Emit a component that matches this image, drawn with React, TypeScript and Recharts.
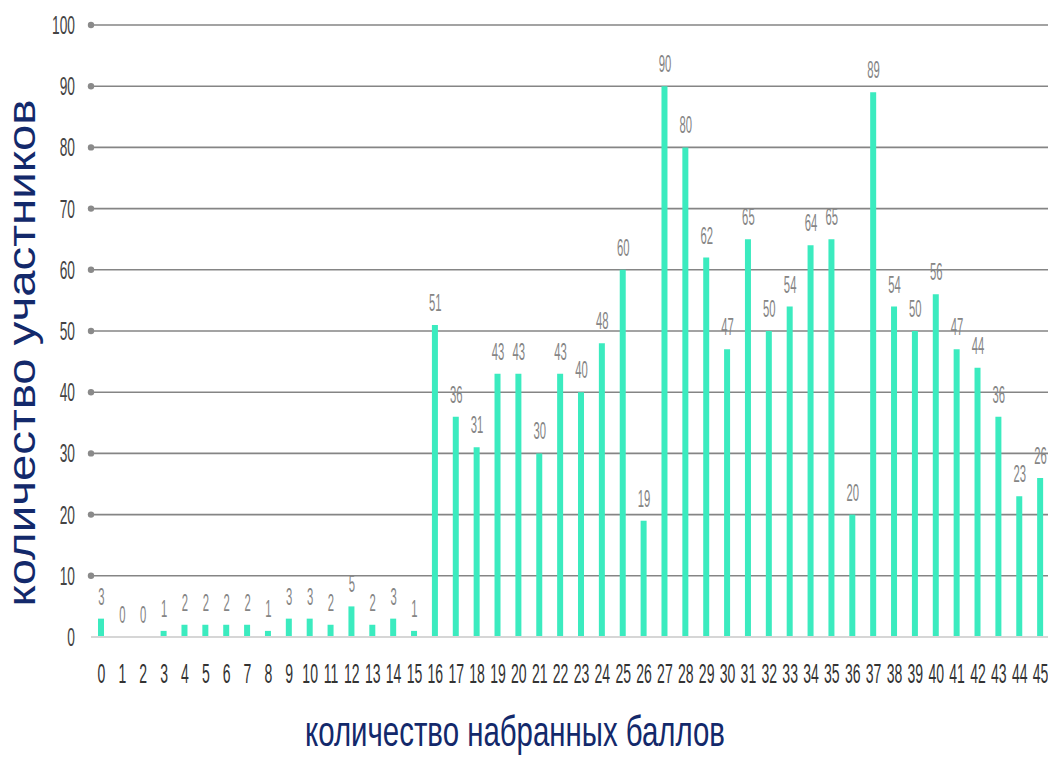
import React from 'react';
import { ComposedChart, Bar, Line, XAxis, YAxis, CartesianGrid, LabelList } from 'recharts';

const scores = [
  '0', '1', '2', '3', '4', '5', '6', '7', '8', '9', '10', '11', '12', '13', '14', '15',
  '16', '17', '18', '19', '20', '21', '22', '23', '24', '25', '26', '27', '28', '29', '30',
  '31', '32', '33', '34', '35', '36', '37', '38', '39', '40', '41', '42', '43', '44', '45',
];
const participants = [
  3, 0, 0, 1, 2, 2, 2, 2, 1, 3, 3, 2, 5, 2, 3, 1,
  51, 36, 31, 43, 43, 30, 43, 40, 48, 60, 19, 90, 80, 62, 47,
  65, 50, 54, 64, 65, 20, 89, 54, 50, 56, 47, 44, 36, 23, 26,
];
const yTicks = [0, 10, 20, 30, 40, 50, 60, 70, 80, 90, 100];

const data = scores.map((s, i) => ({ score: s, count: participants[i] }));

const FONT = '"Liberation Sans", Arial, sans-serif';
const NAVY = '#13296b';

const YTick = ({ x, y, payload }: any) => (
  <g>
    {payload.value !== 0 && <circle cx={x + 8} cy={y} r={3.2} fill="#8a8a8a" />}
    <text
      transform={`translate(${x - 8},${y + 9}) scale(0.55,1)`}
      textAnchor="end"
      fontFamily={FONT}
      fontSize={25}
      fill="#444"
    >
      {payload.value}
    </text>
  </g>
);

const XTick = ({ x, y, payload }: any) => (
  <text
    transform={`translate(${x},${y + 38}) scale(0.52,1)`}
    textAnchor="middle"
    fontFamily={FONT}
    fontSize={27}
    fill="#333"
  >
    {payload.value}
  </text>
);

// labels sit on an invisible line so that zero values still get one
const BarValue = ({ x, y, value }: any) => (
  <text
    transform={`translate(${x},${y - 14}) scale(0.47,1)`}
    textAnchor="middle"
    fontFamily={FONT}
    fontSize={24}
    fill="#858585"
  >
    {value}
  </text>
);

const App: React.FC = () => {
  return (
    <div style={{ position: 'absolute', left: 0, top: 0, width: 1048, height: 765, overflow: 'hidden', background: '#fff' }}>
      <ComposedChart width={1060} height={765} data={data} margin={{ top: 25, right: 9, left: 0, bottom: 78 }}>
        <CartesianGrid vertical={false} stroke="#858585" strokeWidth={1.6} />
        <XAxis
          dataKey="score"
          interval={0}
          tickLine={false}
          axisLine={{ stroke: '#d6d6d6', strokeWidth: 2 }}
          tick={<XTick />}
          height={50}
          label={{
            content: () => (
              <text
                x={515}
                y={746}
                textAnchor="middle"
                fontFamily={FONT}
                fontSize={43}
                fill={NAVY}
                textLength={420}
                lengthAdjust="spacingAndGlyphs"
              >
                количество набранных баллов
              </text>
            ),
          }}
        />
        <YAxis
          domain={[0, 100]}
          ticks={yTicks}
          width={91}
          axisLine={false}
          tickLine={false}
          tick={<YTick />}
          label={{
            content: () => (
              <text
                transform="translate(35,353) rotate(-90)"
                textAnchor="middle"
                fontFamily={FONT}
                fontSize={39}
                fill={NAVY}
                textLength={507}
                lengthAdjust="spacingAndGlyphs"
              >
                количество участников
              </text>
            ),
          }}
        />
        <Bar dataKey="count" fill="#3bebbf" barSize={6} isAnimationActive={false} />
        <Line dataKey="count" stroke="none" dot={false} activeDot={false} isAnimationActive={false}>
          <LabelList dataKey="count" content={<BarValue />} />
        </Line>
      </ComposedChart>
    </div>
  );
};

export default App;
